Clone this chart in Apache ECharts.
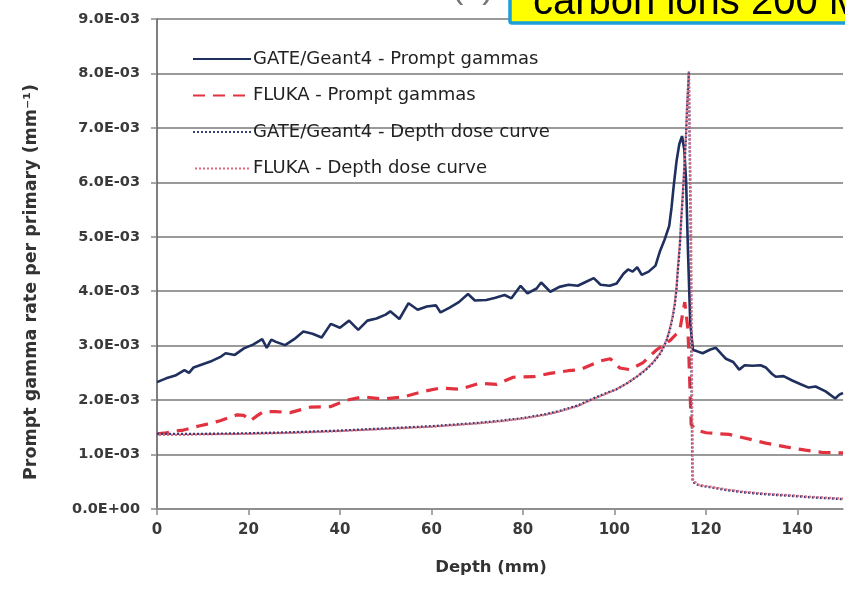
<!DOCTYPE html>
<html>
<head>
<meta charset="utf-8">
<script src="https://cdn.jsdelivr.net/npm/echarts@6/dist/echarts.min.js"></script>
<style>
  html, body { margin: 0; padding: 0; background: #ffffff; }
  #chart { width: 845px; height: 590px; }
</style>
</head>
<body>
<div id="chart"></div>
<script>
// Prompt gamma emission and depth dose, carbon ions in water (values in units of 1e-3 mm^-1)
const SCALE = 1e-3;

const seriesNames = [
  'GATE/Geant4 - Prompt gammas',
  'FLUKA - Prompt gammas',
  'GATE/Geant4 - Depth dose curve',
  'FLUKA - Depth dose curve'
];

const gatePgDepth = [0, 2, 4, 6, 7, 8, 10, 12, 14, 15, 17, 19, 21, 23, 24, 25, 26, 28, 30, 32, 34, 36, 38, 40,
  42, 44, 46, 48, 50, 51, 53, 55, 57, 59, 61, 62, 64, 66, 68, 69.5, 72, 74, 76, 77.5, 79.5, 81, 83, 84, 86,
  88, 90, 92, 93.5, 95.5, 97, 99, 100.5, 102, 103, 104, 105, 106, 107.5, 109, 110, 111, 112, 112.5, 113,
  113.6, 114.2, 114.8, 115.3, 115.7, 116.1, 116.6, 117.2, 118, 119.3, 121, 122.2, 123.5, 124.4, 126, 127.3,
  128.5, 130.2, 132, 133.1, 134.5, 135.3, 137, 138.9, 140.5, 142.5, 144, 146.2, 148.3, 149.2, 150];
const gatePgValue = [2.33, 2.40, 2.45, 2.55, 2.50, 2.60, 2.66, 2.72, 2.80, 2.86, 2.83, 2.95, 3.02, 3.12, 2.96,
  3.11, 3.07, 3.01, 3.12, 3.26, 3.22, 3.15, 3.40, 3.33, 3.46, 3.29, 3.46, 3.50, 3.57, 3.63, 3.49, 3.78, 3.66,
  3.72, 3.74, 3.61, 3.70, 3.80, 3.95, 3.83, 3.84, 3.88, 3.93, 3.87, 4.10, 3.96, 4.05, 4.16, 3.99, 4.08, 4.12,
  4.10, 4.16, 4.24, 4.12, 4.10, 4.14, 4.32, 4.40, 4.36, 4.44, 4.30, 4.36, 4.47, 4.74, 4.95, 5.20, 5.53, 5.95,
  6.39, 6.70, 6.85, 6.60, 6.00, 4.74, 3.42, 2.92, 2.90, 2.86, 2.93, 2.96, 2.84, 2.76, 2.70, 2.56, 2.64, 2.63,
  2.64, 2.60, 2.48, 2.43, 2.44, 2.36, 2.30, 2.23, 2.25, 2.16, 2.03, 2.10, 2.13];

const flukaPgDepth = [0, 2, 4, 5.8, 8, 9.4, 11, 13.8, 17.5, 19, 20.4, 22, 23.3, 26, 29.1, 33.5, 37.9, 41.5,
  45.1, 49.5, 53.9, 58.3, 61.9, 66.3, 70.6, 74.3, 77.9, 82.3, 85.9, 89.9, 92.5, 96.9, 99.1, 101.2, 103.4,
  106.3, 109.2, 112.1, 114.3, 115.4, 116.1, 116.8, 118, 120.1, 125.1, 130.2, 133.1, 137.5, 141.8, 145.4, 150];
const flukaPgValue = [1.38, 1.40, 1.43, 1.45, 1.50, 1.53, 1.56, 1.62, 1.73, 1.72, 1.62, 1.72, 1.79, 1.79, 1.77,
  1.87, 1.88, 2.00, 2.06, 2.02, 2.06, 2.16, 2.22, 2.20, 2.31, 2.29, 2.42, 2.43, 2.49, 2.54, 2.56, 2.72, 2.76,
  2.59, 2.56, 2.69, 2.92, 3.09, 3.28, 3.80, 3.30, 1.55, 1.45, 1.40, 1.37, 1.27, 1.21, 1.14, 1.08, 1.04, 1.03];

const gateDdDepth = [0, 5, 10, 20, 30, 40, 50, 60, 70, 75, 80, 85, 88, 92, 95.4, 98, 100.5, 103, 104.9, 106.8,
  108.5, 110, 110.7, 111.5, 112.1, 112.7, 113.2, 113.6, 113.9, 114.3, 114.6, 115, 115.4, 115.7, 115.9, 116.1,
  116.3, 116.5, 116.7, 116.9, 117.1, 117.5, 118.6, 121, 124.4, 128, 131.7, 135, 138.9, 142, 146, 150];
const gateDdValue = [1.38, 1.38, 1.38, 1.39, 1.41, 1.44, 1.48, 1.52, 1.58, 1.62, 1.67, 1.74, 1.80, 1.90, 2.03,
  2.12, 2.20, 2.32, 2.43, 2.55, 2.69, 2.85, 2.96, 3.12, 3.28, 3.50, 3.75, 4.05, 4.40, 4.80, 5.26, 5.80, 6.39,
  6.90, 7.37, 7.70, 8.02, 8.05, 5.00, 2.00, 0.52, 0.48, 0.43, 0.40, 0.35, 0.31, 0.28, 0.26, 0.24, 0.22, 0.20, 0.18];

const flukaDdDepth = [0, 5, 10, 20, 30, 40, 50, 60, 70, 75, 80, 85, 88, 92, 95.4, 98, 100.5, 103, 104.9, 106.8,
  108.5, 110, 110.7, 111.5, 112.1, 112.7, 113.2, 113.6, 113.9, 114.3, 114.6, 115, 115.4, 115.7, 115.9, 116.1,
  116.3, 116.6, 116.8, 117, 117.2, 117.6, 118.6, 121, 124.4, 128, 131.7, 135, 138.9, 142, 146, 150];
const flukaDdValue = [1.36, 1.36, 1.37, 1.38, 1.40, 1.43, 1.47, 1.51, 1.57, 1.61, 1.66, 1.73, 1.79, 1.89, 2.02,
  2.11, 2.20, 2.32, 2.43, 2.56, 2.70, 2.86, 2.97, 3.13, 3.30, 3.52, 3.78, 4.08, 4.45, 4.86, 5.32, 5.86, 6.45,
  6.96, 7.42, 7.75, 8.04, 8.06, 5.20, 2.20, 0.55, 0.50, 0.44, 0.41, 0.36, 0.32, 0.29, 0.27, 0.25, 0.23, 0.21, 0.19];

const xTickInterval = 20;
const yTickInterval = 1;   // in units of 1e-3

function pairs(depths, values) {
  return depths.map((d, i) => [d, values[i] * SCALE]);
}

function expLabel(v) {
  // Spreadsheet-style scientific notation: 9.0E-03, 0.0E+00
  const s = Number(v).toExponential(1).toUpperCase();
  return s.replace(/E([+-])(\d)$/, 'E$10$2');
}

const FONT = '"DejaVu Sans", "Liberation Sans", sans-serif';

const chart = echarts.init(document.getElementById('chart'), null, { renderer: 'canvas' });

chart.setOption({
  backgroundColor: '#ffffff',
  animation: false,
  grid: { left: 157, right: 2, top: 19, bottom: 81, containLabel: false },
  legend: {
    orient: 'vertical',
    left: 187,
    top: 45,
    itemWidth: 58,
    itemHeight: 18,
    itemGap: 18.5,
    data: seriesNames,
    itemStyle: { opacity: 0 },
    textStyle: { fontFamily: FONT, fontSize: 18, color: '#222', padding: [0, 0, 0, -3] },
    backgroundColor: 'rgba(255,255,255,0)'
  },
  xAxis: {
    type: 'value',
    min: 0,
    max: 150,
    interval: xTickInterval,
    name: 'Depth (mm)',
    nameLocation: 'middle',
    nameGap: 50,
    nameTextStyle: { fontFamily: FONT, fontSize: 16.5, fontWeight: 'bold', color: '#333', padding: [0, 18, 0, 0] },
    axisLine: { show: true, lineStyle: { color: '#8c8c8c', width: 1.5 } },
    axisTick: { show: true, length: 6, lineStyle: { color: '#8c8c8c', width: 1.5 } },
    axisLabel: { fontFamily: FONT, fontSize: 15, fontWeight: 'bold', color: '#3a3a3a', margin: 14, showMaxLabel: false },
    splitLine: { show: false }
  },
  yAxis: {
    type: 'value',
    min: 0,
    max: 9 * SCALE,
    interval: yTickInterval * SCALE,
    axisLine: { show: true, lineStyle: { color: '#555', width: 1.5 } },
    axisTick: { show: true, length: 6, lineStyle: { color: '#8c8c8c', width: 1.5 } },
    axisLabel: { fontFamily: FONT, fontSize: 14.5, fontWeight: 'bold', color: '#3a3a3a', margin: 17, formatter: expLabel },
    splitLine: { show: true, lineStyle: { color: '#9a9a9a', width: 2 } }
  },
  series: [
    {
      name: seriesNames[0], type: 'line', symbol: 'none', smooth: false,
      data: pairs(gatePgDepth, gatePgValue),
      lineStyle: { color: '#1f2f5e', width: 2.6 },
      itemStyle: { color: '#1f2f5e' }, z: 3
    },
    {
      name: seriesNames[1], type: 'line', symbol: 'none',
      data: pairs(flukaPgDepth, flukaPgValue),
      lineStyle: { color: '#e2323f', width: 3.2, type: [12, 8] },
      itemStyle: { color: '#e2323f' }, z: 4
    },
    {
      name: seriesNames[2], type: 'line', symbol: 'none',
      data: pairs(gateDdDepth, gateDdValue),
      lineStyle: { color: '#3a3f78', width: 2.4, type: [2, 2] },
      itemStyle: { color: '#3a3f78' }, z: 5
    },
    {
      name: seriesNames[3], type: 'line', symbol: 'none',
      data: pairs(flukaDdDepth, flukaDdValue),
      lineStyle: { color: '#e46a7c', width: 2.2, type: [2, 2], dashOffset: 2 },
      itemStyle: { color: '#e46a7c' }, z: 6
    }
  ],
  graphic: [
    {
      // vertical axis title
      type: 'text', z: 10, x: 31, y: 282, rotation: Math.PI / 2,
      style: {
        text: 'Prompt gamma rate per primary (mm⁻¹)', fontFamily: FONT, fontSize: 17.5, fontWeight: 'bold',
        fill: '#333', align: 'center', verticalAlign: 'middle'
      }
    },
    {
      type: 'text', z: 20, x: 452, y: -11,
      style: {
        text: '(b)', fontFamily: '"Liberation Sans", sans-serif', fontSize: 34, fill: '#777',
        verticalAlign: 'middle'
      }
    },
    {
      type: 'rect', z: 20,
      shape: { x: 510, y: -40, width: 360, height: 63, r: 2 },
      style: { fill: '#ffff00', stroke: '#1a9fd9', lineWidth: 3.5 }
    },
    {
      type: 'text', z: 21, x: 533, y: 3,
      style: {
        text: 'carbon ions 200 MeV', fontFamily: '"Liberation Sans", sans-serif', fontSize: 40,
        fill: '#000', verticalAlign: 'middle'
      }
    }
  ]
});
</script>
</body>
</html>
